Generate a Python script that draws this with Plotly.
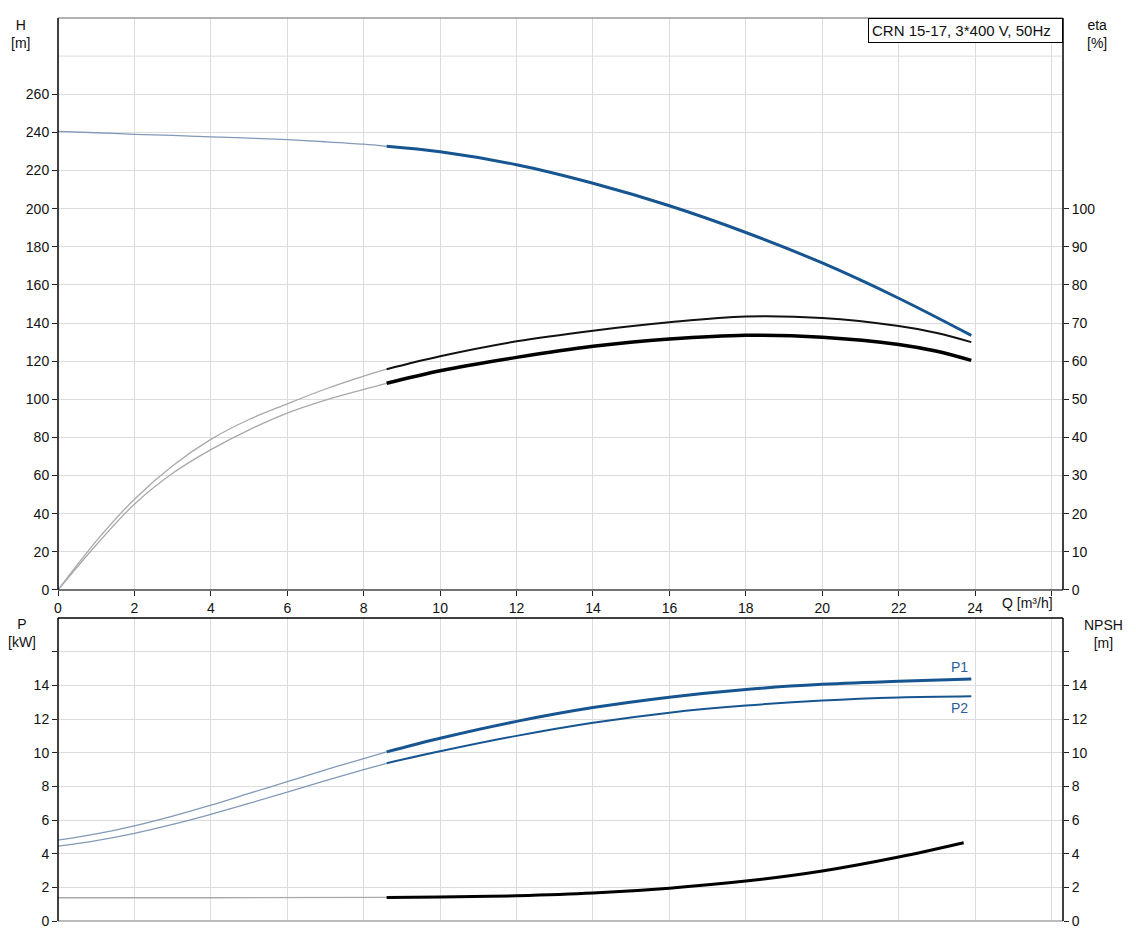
import plotly.graph_objects as go

# ---------------- data ----------------
qh_pts = [0, 1, 2, 3, 4, 5, 6, 7, 8, 8.6, 10, 12, 14, 16, 18, 20, 22, 23.9]
head_m = [240.5, 239.8, 239.0, 238.4, 237.7, 237.0, 236.2, 235.1, 233.8, 232.7, 229.8, 223.0, 213.3, 201.5, 187.5, 171.5, 153.0, 133.5]

q_pts = [0, 1, 2, 3, 4, 5, 6, 7, 8, 8.6, 10, 12, 14, 16, 18, 20, 22, 23, 23.9]
eta_upper = [0, 12.8, 23.8, 32.6, 39.5, 44.7, 48.8, 52.7, 56.1, 57.9, 61.3, 65.2, 68.0, 70.2, 71.7, 71.3, 69.2, 67.4, 65.0]
eta_lower = [0, 11.8, 22.5, 30.6, 36.8, 42.0, 46.4, 49.8, 52.6, 54.2, 57.5, 61.0, 63.9, 65.8, 66.8, 66.3, 64.4, 62.6, 60.2]

qp_pts = [0, 1, 2, 3, 4, 5, 6, 7, 8, 8.6, 10, 12, 14, 16, 18, 20, 22, 23.9]
p1_kw = [4.8, 5.17, 5.65, 6.23, 6.88, 7.58, 8.28, 8.98, 9.65, 10.05, 10.86, 11.86, 12.68, 13.3, 13.76, 14.06, 14.25, 14.38]
p2_kw = [4.45, 4.78, 5.21, 5.74, 6.34, 6.99, 7.66, 8.34, 8.99, 9.37, 10.08, 11.0, 11.78, 12.38, 12.8, 13.1, 13.28, 13.35]

qn_pts = [0, 4, 8.6, 10, 12, 14, 16, 18, 20, 22, 23.7]
npsh_m = [1.38, 1.38, 1.4, 1.42, 1.5, 1.66, 1.95, 2.37, 2.97, 3.8, 4.65]

q_ticks = [0, 2, 4, 6, 8, 10, 12, 14, 16, 18, 20, 22, 24, 26]
h_ticks = list(range(0, 261, 20))
eta_ticks = list(range(0, 101, 10))
p_ticks = list(range(0, 17, 2))

SPLIT_Q = 8.6
title_text = "CRN 15-17, 3*400 V, 50Hz"

# ---------------- style ----------------
BLUE = "#175591"
BLUE_THIN = "#8299b8"
GRAY_THIN = "#a8a8a8"
GRID = "#dcdcdc"
FONT = "Arial, Liberation Sans, sans-serif"


def split(xs, ys, xsplit):
    i = xs.index(xsplit)
    return (xs[:i + 1], ys[:i + 1]), (xs[i:], ys[i:])


fig = go.Figure()


def add_curve(xs, ys, xa, ya, thin_color, thick_color, thick_w):
    (x1, y1), (x2, y2) = split(xs, ys, SPLIT_Q)
    fig.add_trace(go.Scatter(x=x1, y=y1, xaxis=xa, yaxis=ya, mode="lines",
                             line=dict(color=thin_color, width=1.3, shape="spline"),
                             showlegend=False, hoverinfo="skip"))
    fig.add_trace(go.Scatter(x=x2, y=y2, xaxis=xa, yaxis=ya, mode="lines",
                             line=dict(color=thick_color, width=thick_w, shape="spline"),
                             showlegend=False))


add_curve(qh_pts, head_m, "x", "y", BLUE_THIN, BLUE, 3)
add_curve(q_pts, eta_upper, "x", "y2", GRAY_THIN, "#111111", 2)
add_curve(q_pts, eta_lower, "x", "y2", GRAY_THIN, "#000000", 3.5)
add_curve(qp_pts, p1_kw, "x2", "y3", BLUE_THIN, BLUE, 3)
add_curve(qp_pts, p2_kw, "x2", "y3", BLUE_THIN, BLUE, 2)
add_curve(qn_pts, npsh_m, "x2", "y4", GRAY_THIN, "#000000", 3)

TOP = [0.3666, 1.0]
BOT = [0.0, 0.3355]
XR = [0, 26.3]

tickfont = dict(family=FONT, size=14, color="#111")

fig.update_layout(
    width=1128, height=942,
    margin=dict(l=50, r=73, t=10, b=29),
    plot_bgcolor="white", paper_bgcolor="white",
    font=dict(family=FONT, size=14, color="#111"),
    xaxis=dict(domain=[0, 1], anchor="y", range=XR, tickvals=q_ticks,
               ticktext=[str(v) if v <= 24 else "" for v in q_ticks],
               ticks="outside", ticklen=5, tickcolor="#222", showgrid=True,
               gridcolor=GRID, zeroline=False, showline=False, tickfont=tickfont),
    yaxis=dict(domain=TOP, anchor="x", range=[0, 300], tickvals=h_ticks,
               ticks="outside", ticklen=5, tickcolor="#222", showgrid=True,
               gridcolor=GRID, zeroline=False, showline=False, tickfont=tickfont),
    yaxis2=dict(overlaying="y", side="right", anchor="x", range=[0, 150],
                tickvals=eta_ticks, ticks="outside", ticklen=5, tickcolor="#222",
                showgrid=False, zeroline=False, showline=False, tickfont=tickfont),
    xaxis2=dict(domain=[0, 1], anchor="y3", range=XR, tickvals=q_ticks,
                showticklabels=False, ticks="", showgrid=True, gridcolor=GRID,
                zeroline=False, showline=False),
    yaxis3=dict(domain=BOT, anchor="x2", range=[0, 18], tickvals=p_ticks,
                ticktext=[str(v) if v <= 14 else "" for v in p_ticks],
                ticks="outside", ticklen=5, tickcolor="#222", showgrid=True,
                gridcolor=GRID, zeroline=False, showline=False, tickfont=tickfont),
    yaxis4=dict(overlaying="y3", side="right", anchor="x2", range=[0, 18],
                tickvals=p_ticks, ticktext=[str(v) if v <= 14 else "" for v in p_ticks],
                ticks="outside", ticklen=5, tickcolor="#222", showgrid=False,
                zeroline=False, showline=False, tickfont=tickfont),
)

shapes = []
shapes.append(dict(type="line", xref="x domain", yref="y", x0=0, x1=1, y0=280, y1=280,
                   line=dict(color=GRID, width=1), layer="below"))
shapes.append(dict(type="line", xref="paper", yref="paper", x0=0, x1=1, y0=1, y1=1,
                   line=dict(color="#999", width=1.5)))
shapes.append(dict(type="line", xref="paper", yref="paper", x0=0, x1=1, y0=TOP[0], y1=TOP[0],
                   line=dict(color="#444", width=1.5)))
shapes.append(dict(type="line", xref="paper", yref="paper", x0=0, x1=0, y0=TOP[0], y1=1,
                   line=dict(color="#000", width=1.5)))
shapes.append(dict(type="line", xref="paper", yref="paper", x0=1, x1=1, y0=TOP[0], y1=1,
                   line=dict(color="#000", width=1.5)))
shapes.append(dict(type="line", xref="paper", yref="paper", x0=0, x1=1, y0=BOT[1], y1=BOT[1],
                   line=dict(color="#000", width=1.5)))
shapes.append(dict(type="line", xref="paper", yref="paper", x0=0, x1=1, y0=0, y1=0,
                   line=dict(color="#bbb", width=2)))
shapes.append(dict(type="line", xref="paper", yref="paper", x0=0, x1=0, y0=0, y1=BOT[1],
                   line=dict(color="#000", width=1.5)))
shapes.append(dict(type="line", xref="paper", yref="paper", x0=1, x1=1, y0=0, y1=BOT[1],
                   line=dict(color="#000", width=1.5)))
fig.update_layout(shapes=shapes)

ann = []
ann.append(dict(text=title_text, xref="paper", yref="paper", x=1, y=1, xanchor="right",
                yanchor="top", showarrow=False, bordercolor="#000", borderwidth=1,
                borderpad=3, bgcolor="white", width=187, align="left",
                font=dict(family=FONT, size=15, color="#111")))
ann.append(dict(text="H<br>[m]", xref="paper", yref="paper", x=-0.0378, y=0.982,
                xanchor="center", yanchor="middle", showarrow=False))
ann.append(dict(text="eta<br>[%]", xref="paper", yref="paper", x=1.034, y=0.982,
                xanchor="center", yanchor="middle", showarrow=False))
ann.append(dict(text="P<br>[kW]", xref="paper", yref="paper", x=-0.036, y=0.319,
                xanchor="center", yanchor="middle", showarrow=False))
ann.append(dict(text="NPSH<br>[m]", xref="paper", yref="paper", x=1.040, y=0.318,
                xanchor="center", yanchor="middle", showarrow=False))
ann.append(dict(text="Q [m³/h]", xref="paper", yref="paper", x=0.965, y=0.352,
                xanchor="center", yanchor="middle", showarrow=False))
ann.append(dict(text="P1", xref="x2", yref="y3", x=23.6, y=15.07, xanchor="center",
                yanchor="middle", showarrow=False, font=dict(color="#2a5e9a", size=14)))
ann.append(dict(text="P2", xref="x2", yref="y3", x=23.6, y=12.64, xanchor="center",
                yanchor="middle", showarrow=False, font=dict(color="#2a5e9a", size=14)))
fig.update_layout(annotations=ann)

fig.write_html("out.html")
